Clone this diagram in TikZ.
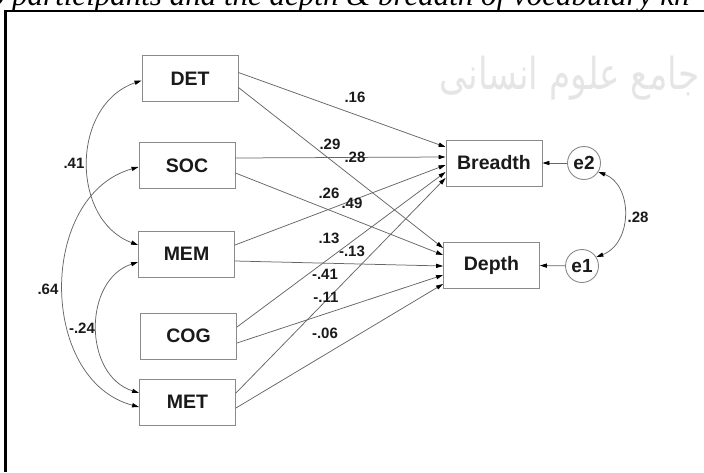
\documentclass[tikz,border=0pt]{standalone}
\usepackage{fontspec}
\setmainfont{Liberation Serif}
\newfontfamily\diagfont{Liberation Sans}
\newfontfamily\arabicfont[Script=Arabic]{DejaVu Sans}
\TeXXeTstate=1
\usetikzlibrary{arrows.meta}

\definecolor{txt}{HTML}{1A1A1A}
\definecolor{boxgray}{HTML}{8A8A8A}
\definecolor{linegray}{HTML}{666666}

\tikzset{
  var/.style={draw=boxgray, line width=0.9pt, fill=white, minimum width=96pt,
    minimum height=46pt, inner sep=0pt, text=txt,
    font=\diagfont\bfseries\fontsize{19.5}{21}\selectfont},
  err/.style={circle, draw=boxgray, line width=0.9pt, fill=white, minimum size=33pt,
    inner sep=0pt, text=txt, font=\diagfont\bfseries\fontsize{19}{21}\selectfont},
  tip/.tip={Triangle[length=7pt,width=4.2pt]},
  regr/.style={draw=linegray, line width=0.75pt, -{tip[black]}},
  cov/.style={draw=linegray, line width=0.75pt, {tip[black]}-{tip[black]}},
  coef/.style={inner sep=0pt, text=txt, font=\diagfont\bfseries\fontsize{15}{17}\selectfont},
}

\begin{document}
\begin{tikzpicture}[x=1pt,y=-1pt]
\useasboundingbox (0,0) rectangle (704,472);
\fill[white] (0,0) rectangle (704,472);

% faint watermark behind the figure
\node[anchor=east, text=black!10, xscale=0.78, font=\arabicfont\fontsize{44}{44}\selectfont]
  (wm) at (702,78) {\beginR جامع علوم انسانی\endR};

% caption running along the top edge
\node[anchor=base west, inner sep=0pt, text=black,
  font=\itshape\fontsize{31}{33}\selectfont] (caption) at (-11.25,5)
  {o participants and the depth \& breadth of vocabulary kn};

% figure frame
\draw[line width=2.6pt, black] (5.5,472) -- (5.5,11) -- (704,11);

% observed variables
\node[var] (DET) at (190,78.5) {DET};
\node[var] (SOC) at (187,165.5) {SOC};
\node[var] (MEM) at (186.5,254) {MEM};
\node[var] (COG) at (188.5,336) {COG};
\node[var] (MET) at (187.5,402) {MET};
\node[var] (BRE) at (494,163) {Breadth};
\node[var] (DEP) at (491.5,265) {Depth};

% error terms
\node[err] (e2) at (584,163) {e2};
\node[err] (e1) at (582,266) {e1};

% regression paths
\draw[regr] ([yshift=6pt]DET.east) -- ([yshift=16pt]BRE.west);
\draw[regr] ([yshift=-9pt]DET.east) -- ([yshift=17pt]DEP.west);
\draw[regr] ([yshift=7.5pt]SOC.east) -- ([yshift=6pt]BRE.west);
\draw[regr] ([yshift=-7.5pt]SOC.east) -- ([yshift=10pt]DEP.west);
\draw[regr] ([yshift=9pt]MEM.east) -- ([yshift=-2pt]BRE.west);
\draw[regr] ([yshift=-7pt]MEM.east) -- ([yshift=-1pt]DEP.west);
\draw[regr] ([yshift=9pt]COG.east) -- ([yshift=-9pt]BRE.west);
\draw[regr] ([yshift=-7pt]COG.east) -- ([yshift=-10pt]DEP.west);
\draw[regr] ([yshift=9pt]MET.east) -- ([yshift=-15pt]BRE.west);
\draw[regr] ([yshift=-6pt]MET.east) -- ([yshift=-19pt]DEP.west);

\draw[regr] (e2) -- (BRE);
\draw[regr] (e1) -- (DEP);

% covariances
\draw[cov] ([yshift=-2pt]DET.west) .. controls (70.5,105) and (70.5,220) .. ([yshift=9pt]MEM.west);
\draw[cov] ([yshift=-1.5pt]SOC.west) .. controls (38,195) and (38,380) .. ([yshift=-5pt]MET.west);
\draw[cov] ([yshift=-8pt]MEM.west) .. controls (83,280) and (83,375) .. ([yshift=9pt]MET.west);
\draw[cov] (e2.-32) .. controls (633,185) and (633,243) .. (e1.32);

% estimates
\node[coef] (c1) at (355,97) {.16};
\node[coef] (c2) at (330,144) {.29};
\node[coef] (c3) at (355,157) {.28};
\node[coef] (c4) at (329,193) {.26};
\node[coef] (c5) at (352,203) {.49};
\node[coef] (c6) at (329,238) {.13};
\node[coef] (c7) at (352,251) {-.13};
\node[coef] (c8) at (325,274) {-.41};
\node[coef] (c9) at (326,297) {-.11};
\node[coef] (c10) at (325,333) {-.06};
\node[coef] (k1) at (74,163) {.41};
\node[coef] (k2) at (48,289) {.64};
\node[coef] (k3) at (82,328) {-.24};
\node[coef] (k4) at (638,217) {.28};
\end{tikzpicture}
\end{document}
